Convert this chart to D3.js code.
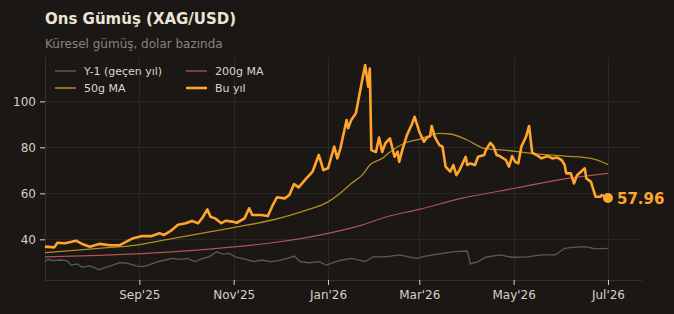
<!DOCTYPE html>
<html>
<head>
<meta charset="utf-8">
<script src="https://cdn.jsdelivr.net/npm/d3@7"></script>
<style>
  html, body { margin: 0; padding: 0; background: #1a1714; }
  svg { display: block; font-family: 'DejaVu Sans', sans-serif; }
</style>
</head>
<body>
<svg width="674" height="314"></svg>
<script>
// Bu yıl (this year) closes
const thisYear = [
  ['2025-07-02', 36.8], ['2025-07-08', 36.5], ['2025-07-10', 38.5], ['2025-07-15', 38.3],
  ['2025-07-22', 39.4], ['2025-07-26', 38.0], ['2025-07-31', 36.8], ['2025-08-06', 38.0],
  ['2025-08-13', 37.4], ['2025-08-19', 37.4], ['2025-08-24', 39.1], ['2025-08-28', 40.5],
  ['2025-09-03', 41.4], ['2025-09-09', 41.4], ['2025-09-14', 42.6], ['2025-09-17', 41.9],
  ['2025-09-22', 44.0], ['2025-09-26', 46.3], ['2025-10-01', 47.0], ['2025-10-05', 48.0],
  ['2025-10-09', 47.0], ['2025-10-12', 49.6], ['2025-10-15', 53.0], ['2025-10-17', 49.8],
  ['2025-10-20', 49.1], ['2025-10-24', 47.0], ['2025-10-27', 48.1], ['2025-10-31', 47.7],
  ['2025-11-03', 47.2], ['2025-11-08', 49.1], ['2025-11-11', 53.5], ['2025-11-13', 50.6],
  ['2025-11-19', 50.6], ['2025-11-23', 50.1], ['2025-11-26', 54.5], ['2025-11-29', 58.3],
  ['2025-12-04', 57.8], ['2025-12-07', 59.3], ['2025-12-10', 64.0], ['2025-12-13', 62.6],
  ['2025-12-18', 66.5], ['2025-12-22', 69.4], ['2025-12-26', 76.7], ['2025-12-29', 70.1],
  ['2026-01-01', 70.9], ['2026-01-05', 80.3], ['2026-01-07', 75.2], ['2026-01-09', 79.6],
  ['2026-01-13', 91.9], ['2026-01-14', 88.3], ['2026-01-16', 91.9], ['2026-01-19', 94.8],
  ['2026-01-23', 109.0], ['2026-01-25', 115.8], ['2026-01-27', 106.3], ['2026-01-28', 114.3],
  ['2026-01-29', 78.8], ['2026-02-01', 78.0], ['2026-02-03', 84.3], ['2026-02-05', 78.0],
  ['2026-02-07', 81.7], ['2026-02-10', 83.9], ['2026-02-13', 75.9], ['2026-02-15', 78.1],
  ['2026-02-16', 73.7], ['2026-02-18', 78.8], ['2026-02-21', 85.3], ['2026-02-24', 89.7],
  ['2026-02-26', 93.3], ['2026-02-27', 91.1], ['2026-03-01', 86.8], ['2026-03-04', 82.4],
  ['2026-03-06', 84.3], ['2026-03-08', 84.9], ['2026-03-09', 89.3], ['2026-03-11', 84.6],
  ['2026-03-14', 81.0], ['2026-03-16', 80.3], ['2026-03-18', 71.6], ['2026-03-21', 69.4],
  ['2026-03-23', 72.3], ['2026-03-25', 67.9], ['2026-03-27', 70.1], ['2026-03-31', 75.9],
  ['2026-04-01', 72.3], ['2026-04-03', 73.0], ['2026-04-06', 72.3], ['2026-04-08', 75.9],
  ['2026-04-12', 76.7], ['2026-04-13', 78.8], ['2026-04-16', 82.0], ['2026-04-18', 80.3],
  ['2026-04-20', 76.7], ['2026-04-22', 76.2], ['2026-04-26', 74.5], ['2026-04-28', 71.6],
  ['2026-04-30', 76.2], ['2026-05-02', 73.7], ['2026-05-04', 73.0], ['2026-05-06', 80.3],
  ['2026-05-09', 84.6], ['2026-05-11', 89.3], ['2026-05-13', 77.7], ['2026-05-17', 76.2],
  ['2026-05-19', 75.2], ['2026-05-23', 76.2], ['2026-05-26', 75.2], ['2026-05-29', 75.6],
  ['2026-06-01', 74.5], ['2026-06-03', 72.3], ['2026-06-04', 68.7], ['2026-06-07', 68.7],
  ['2026-06-09', 64.3], ['2026-06-11', 67.9], ['2026-06-16', 70.9], ['2026-06-17', 66.5],
  ['2026-06-20', 65.0], ['2026-06-23', 58.5], ['2026-06-26', 58.5], ['2026-06-27', 59.2],
  ['2026-07-01', 57.96]
]

// Y-1 (last year), drawn on this year's dates
const lastYear = [
  ['2025-07-02', 30.3], ['2025-07-04', 31.3], ['2025-07-07', 30.7], ['2025-07-12', 31.0],
  ['2025-07-16', 30.7], ['2025-07-19', 28.8], ['2025-07-23', 29.3], ['2025-07-26', 27.8],
  ['2025-07-31', 28.4], ['2025-08-04', 27.4], ['2025-08-06', 26.7], ['2025-08-10', 27.8],
  ['2025-08-15', 28.8], ['2025-08-19', 29.8], ['2025-08-24', 29.6], ['2025-08-30', 28.4],
  ['2025-09-03', 28.1], ['2025-09-07', 28.8], ['2025-09-13', 30.3], ['2025-09-18', 31.0],
  ['2025-09-22', 31.7], ['2025-09-28', 31.3], ['2025-10-02', 31.7], ['2025-10-07', 30.3],
  ['2025-10-12', 31.7], ['2025-10-16', 32.4], ['2025-10-21', 34.6], ['2025-10-25', 33.6],
  ['2025-10-29', 33.9], ['2025-11-02', 32.4], ['2025-11-09', 31.3], ['2025-11-14', 30.3],
  ['2025-11-19', 31.0], ['2025-11-25', 30.3], ['2025-11-30', 30.7], ['2025-12-06', 31.7],
  ['2025-12-10', 32.7], ['2025-12-14', 30.3], ['2025-12-20', 29.8], ['2025-12-26', 30.3],
  ['2025-12-31', 28.8], ['2026-01-06', 30.3], ['2026-01-10', 31.0], ['2026-01-16', 31.7],
  ['2026-01-25', 30.3], ['2026-01-30', 32.4], ['2026-02-07', 32.4], ['2026-02-16', 33.2],
  ['2026-02-27', 31.7], ['2026-03-05', 32.7], ['2026-03-16', 33.9], ['2026-03-24', 34.6],
  ['2026-04-01', 34.9], ['2026-04-03', 29.3], ['2026-04-08', 30.3], ['2026-04-13', 32.2],
  ['2026-04-22', 33.2], ['2026-04-30', 32.2], ['2026-05-10', 32.4], ['2026-05-19', 33.2],
  ['2026-05-28', 33.2], ['2026-06-03', 36.1], ['2026-06-08', 36.5], ['2026-06-16', 36.8],
  ['2026-06-23', 35.8], ['2026-07-01', 36.1]
]

const ma50 = [
  ['2025-07-02', 34.2], ['2025-08-06', 36.1], ['2025-08-30', 37.5], ['2025-09-23', 40.4],
  ['2025-10-31', 45.0], ['2025-11-26', 48.4], ['2025-12-18', 52.7], ['2026-01-01', 56.3],
  ['2026-01-10', 60.7], ['2026-01-16', 64.3], ['2026-01-23', 67.9], ['2026-01-28', 72.3],
  ['2026-02-05', 75.2], ['2026-02-09', 77.4], ['2026-02-20', 82.0], ['2026-03-01', 83.5],
  ['2026-03-14', 86.1], ['2026-03-21', 85.8], ['2026-04-01', 83.2], ['2026-04-12', 79.6],
  ['2026-04-25', 78.8], ['2026-05-12', 77.4], ['2026-06-03', 76.2], ['2026-06-20', 75.2],
  ['2026-07-01', 72.5]
]

const ma200 = [
  ['2025-07-02', 32.4], ['2025-08-06', 33.0], ['2025-09-03', 33.8], ['2025-10-10', 35.4],
  ['2025-11-03', 36.8], ['2025-11-26', 38.5], ['2026-01-01', 42.6], ['2026-01-23', 46.2],
  ['2026-02-08', 49.8], ['2026-03-01', 53.0], ['2026-03-28', 57.8], ['2026-05-02', 62.2],
  ['2026-06-01', 66.1], ['2026-07-01', 68.7]
]

const yTicks = [40, 60, 80, 100]
const xTicks = ['2025-09-01', '2025-11-01', '2026-01-01', '2026-03-01', '2026-05-01', '2026-07-01']
const xLabels = ["Sep'25", "Nov'25", "Jan'26", "Mar'26", "May'26", "Jul'26"]

const parse = d3.timeParse('%Y-%m-%d')
const padL = 45, padR = 642, padT = 57, padB = 280

let svg = d3.select('svg')
let x = d3.scaleTime()
  .domain([parse('2025-07-02'), parse('2026-07-23')])
  .range([padL, padR])
let y = d3.scaleLinear()
  .domain([22.3, 119.3])
  .range([padB, padT])

svg.append('rect').attr('width', 674).attr('height', 314).attr('fill', '#1a1714')

// grid
let grid = svg.append('g').attr('stroke', '#2a2622').attr('stroke-width', 1)
grid.selectAll('.gy').data(yTicks).enter().append('line')
  .attr('x1', padL).attr('x2', padR)
  .attr('y1', d => Math.round(y(d)) + 0.5).attr('y2', d => Math.round(y(d)) + 0.5)
grid.selectAll('.gx').data(xTicks).enter().append('line')
  .attr('y1', padT).attr('y2', padB)
  .attr('x1', d => Math.round(x(parse(d))) + 0.5).attr('x2', d => Math.round(x(parse(d))) + 0.5)

// axes
let yAxis = d3.axisLeft(y).tickValues(yTicks).tickSize(5).tickPadding(4)
let xAxis = d3.axisBottom(x).tickValues(xTicks.map(parse)).tickSize(5).tickPadding(5)
  .tickFormat((d, i) => xLabels[i])

let gy = svg.append('g').attr('transform', 'translate(' + padL + ',0)').call(yAxis)
let gx = svg.append('g').attr('transform', 'translate(0,' + padB + ')').call(xAxis)
gy.select('.domain').attr('d', 'M0.5,' + padT + 'V' + padB)
gx.select('.domain').attr('d', 'M' + padL + ',0.5H' + padR)
;[gx, gy].forEach(g => {
  g.select('.domain').attr('stroke', '#34302b')
  g.selectAll('.tick line').attr('stroke', '#d8d0c4')
  g.selectAll('.tick text').attr('fill', '#d8d0c4').attr('font-size', 12)
    .attr('font-family', "'DejaVu Sans', sans-serif")
})

let line = d3.line()
  .x(d => x(parse(d[0])))
  .y(d => y(d[1]))

svg.append('path').datum(lastYear).attr('d', line)
  .attr('fill', 'none').attr('stroke', '#585a63').attr('stroke-width', 1.3)
svg.append('path').datum(ma200).attr('d', line.curve(d3.curveMonotoneX))
  .attr('fill', 'none').attr('stroke', '#b0525a').attr('stroke-width', 1.2)
svg.append('path').datum(ma50).attr('d', line.curve(d3.curveMonotoneX))
  .attr('fill', 'none').attr('stroke', '#b48d1f').attr('stroke-width', 1.3)
svg.append('path').datum(thisYear).attr('d', line.curve(d3.curveLinear))
  .attr('fill', 'none').attr('stroke', '#ffa52c').attr('stroke-width', 2.6)
  .attr('stroke-linejoin', 'round')

let last = thisYear[thisYear.length - 1]
svg.append('circle')
  .attr('cx', x(parse(last[0]))).attr('cy', y(last[1])).attr('r', 5)
  .attr('fill', '#ffa52c')
svg.append('text')
  .attr('x', x(parse(last[0])) + 9).attr('y', y(last[1]) + 5.5)
  .attr('fill', '#ffa52c').attr('font-size', 15).attr('font-weight', 'bold')
  .text(last[1].toFixed(2))

// titles
svg.append('text').attr('x', 45).attr('y', 24)
  .attr('fill', '#ece4d6').attr('font-size', 15).attr('font-weight', 'bold')
  .text('Ons Gümüş (XAG/USD)')
svg.append('text').attr('x', 45).attr('y', 48)
  .attr('fill', '#8a847c').attr('font-size', 12)
  .text('Küresel gümüş, dolar bazında')

// legend
const legend = [
  { name: 'Y-1 (geçen yıl)', color: '#585a63', w: 1.5, lx: 55, ly: 71 },
  { name: '200g MA', color: '#b0525a', w: 1.3, lx: 186, ly: 71 },
  { name: '50g MA', color: '#b48d1f', w: 1.5, lx: 55, ly: 88 },
  { name: 'Bu yıl', color: '#ffa52c', w: 2.6, lx: 186, ly: 88 }
]
let lg = svg.append('g').selectAll('g').data(legend).enter().append('g')
lg.append('line')
  .attr('x1', d => d.lx).attr('x2', d => d.lx + 21)
  .attr('y1', d => d.ly).attr('y2', d => d.ly)
  .attr('stroke', d => d.color).attr('stroke-width', d => d.w)
lg.append('text')
  .attr('x', d => d.lx + 29).attr('y', d => d.ly + 4)
  .attr('fill', '#ddd5c8').attr('font-size', 11)
  .text(d => d.name)
</script>
</body>
</html>
